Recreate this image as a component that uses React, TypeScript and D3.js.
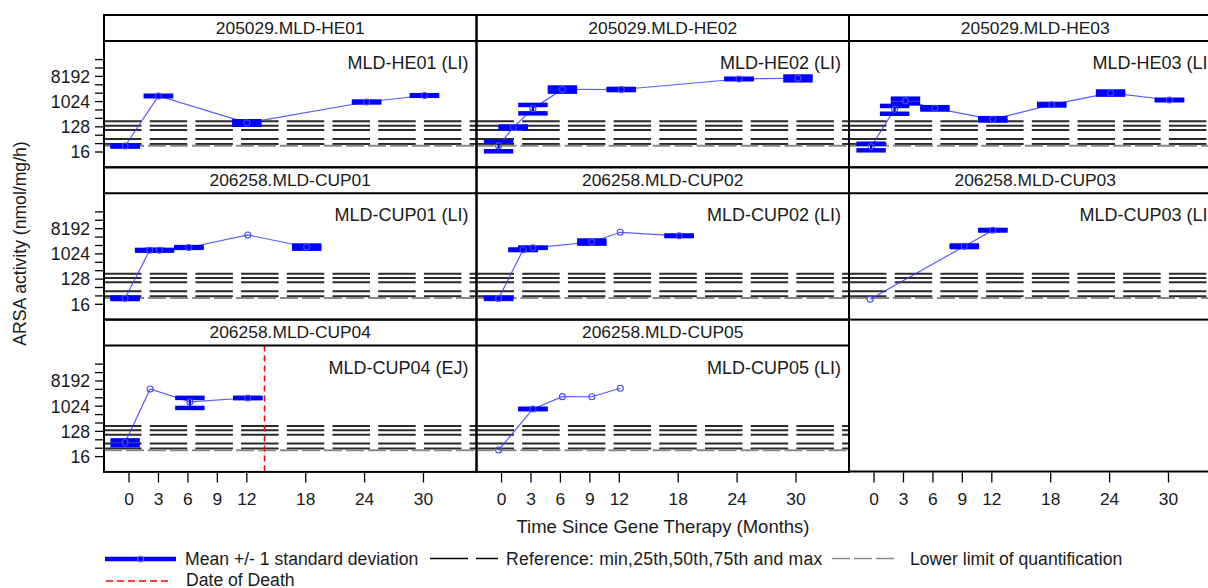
import React from "react";
import * as d3 from "d3";

// ---------- data ----------
const panelStrips = [
  "205029.MLD-HE01", "205029.MLD-HE02", "205029.MLD-HE03",
  "206258.MLD-CUP01", "206258.MLD-CUP02", "206258.MLD-CUP03",
  "206258.MLD-CUP04", "206258.MLD-CUP05",
];
const panelLabels = [
  "MLD-HE01 (LI)", "MLD-HE02 (LI)", "MLD-HE03 (LI)",
  "MLD-CUP01 (LI)", "MLD-CUP02 (LI)", "MLD-CUP03 (LI)",
  "MLD-CUP04 (EJ)", "MLD-CUP05 (LI)",
];

const he01Months = [-0.4, 3, 12, 24.2, 30.1];
const he01Mean = [26.3, 1625, 177, 990, 1694];
const he01Sd = [1.3, 30, 25, 37, 30];

const he02Months = [-0.3, 1.2, 3.2, 6.2, 12.2, 24.2, 30.2];
const he02Mean = [27, 121, 582, 2800, 2780, 6610, 7005];
const he02Sd = [10, 9.8, 194, 470, 128, 137, 1085];

const he03Months = [-0.3, 2.1, 3.2, 6.2, 12.1, 18.1, 24.1, 30.1];
const he03Mean = [25, 545, 1090, 589, 238, 793, 2083, 1168];
const he03Sd = [6.6, 170, 210, 56, 22.6, 51, 264, 24];

const cup01Months = [-0.4, 2.1, 3.1, 6.1, 12.1, 18.1];
const cup01Mean = [26.2, 1379, 1385, 1737, 4870, 1807];
const cup01Sd = [1.5, 40, 40, 50, 0, 230];

const cup02Months = [-0.3, 2.2, 3.2, 9.2, 12.1, 18.1];
const cup02Mean = [26, 1436, 1694, 2734, 6085, 4560];
const cup02Sd = [1, 30, 10, 347, 0, 95];

const cup03Months = [-0.4, 9.2, 12.1];
const cup03Mean = [24.2, 1918, 7234];
const cup03Sd = [0, 123, 150];

const cup04Months = [-0.4, 2.15, 6.2, 12.1];
const cup04Mean = [51, 4235, 1460, 2014];
const cup04Sd = [10, 0, 575, 15];

const cup05Months = [-0.3, 3.2, 6.2, 9.2, 12.1];
const cup05Mean = [27.6, 813, 2250, 2235, 4480];
const cup05Sd = [0, 10, 0, 0, 0];

const panelMonths = [he01Months, he02Months, he03Months, cup01Months, cup02Months, cup03Months, cup04Months, cup05Months];
const panelMeans = [he01Mean, he02Mean, he03Mean, cup01Mean, cup02Mean, cup03Mean, cup04Mean, cup05Mean];
const panelSds = [he01Sd, he02Sd, he03Sd, cup01Sd, cup02Sd, cup03Sd, cup04Sd, cup05Sd];

// death date (panel index 6)
const deathPanel = 6;
const deathMonth = 13.8;

// reference values: min, 25th, 50th, 75th, max
const referenceValues = [31, 47, 98, 140, 201];
const lloqValue = 27;

const xTickValues = [0, 3, 6, 9, 12, 18, 24, 30];
const yTickExponents = [4, 5, 6, 7, 8, 9, 10, 11, 12, 13, 14, 15];
const yTickLabels = [16, 128, 1024, 8192];

// ---------- layout ----------
const W = 1208;
const H = 588;
const colLeft = [104, 476.5, 849];
const colW = 372.5;
const rowTop0 = 15;
const rowStep = 152.3;
const stripH = 26;
const plotH = 126.3;
const FONT = "'Liberation Sans', Arial, sans-serif";
const TXT = "#1a1a1a";
const BLUE = "#0000ff";

function geom(i: number) {
  const row = Math.floor(i / 3);
  const col = i % 3;
  const left = colLeft[col];
  const top = rowTop0 + row * rowStep;
  const plotTop = top + stripH;
  const plotBottom = plotTop + plotH;
  const x = d3.scaleLinear().domain([-2.55, 35.4]).range([left, left + colW]);
  const y = d3.scaleLog().base(2).domain([2 ** 2.18, 2 ** 17.21]).range([plotBottom, plotTop]);
  return { row, col, left, top, plotTop, plotBottom, x, y };
}

function Panel({ i }: { i: number }) {
  const g = geom(i);
  const { x, y, left, top, plotTop, plotBottom } = g;
  const months = panelMonths[i];
  const means = panelMeans[i];
  const sds = panelSds[i];
  const pts = months.map((m, k) => [x(m), y(means[k])] as [number, number]);
  const line = d3.line()(pts) || "";
  const capHalf = x(1.5) - x(0);
  const capT = 4.5;
  return (
    <g>
      <defs>
        <clipPath id={`clip${i}`}>
          <rect x={left} y={plotTop} width={colW} height={plotH} />
        </clipPath>
      </defs>
      <g clipPath={`url(#clip${i})`}>
        {referenceValues.map((v, k) => (
          <line key={`r${k}`} x1={left} x2={left + colW} y1={y(v)} y2={y(v)}
            stroke="#2a2a2a" strokeWidth={2} strokeDasharray="37.5 8.2" />
        ))}
        <line x1={left} x2={left + colW} y1={y(lloqValue)} y2={y(lloqValue)}
          stroke="#8a8a8a" strokeWidth={2} strokeDasharray="18 4" />
        {i === deathPanel && (
          <line x1={x(deathMonth)} x2={x(deathMonth)} y1={plotTop} y2={plotBottom}
            stroke="#ff0000" strokeWidth={1.5} strokeDasharray="6 4" />
        )}
        <path d={line} fill="none" stroke="#3c3cff" strokeOpacity={0.85} strokeWidth={1.2} />
        {months.map((m, k) => {
          const s = sds[k];
          if (!(s > 0)) return null;
          const cx = x(m);
          const yu = y(means[k] + s);
          const yl = y(Math.max(means[k] - s, 1));
          return (
            <g key={`b${k}`} fill={BLUE}>
              <rect x={cx - capHalf} y={yu - capT / 2} width={capHalf * 2} height={capT} />
              <rect x={cx - capHalf} y={yl - capT / 2} width={capHalf * 2} height={capT} />
              <line x1={cx} x2={cx} y1={yu} y2={yl} stroke={BLUE} strokeWidth={2.2} />
            </g>
          );
        })}
        {pts.map((p, k) => (
          <circle key={`c${k}`} cx={p[0]} cy={p[1]} r={3} fill="none" stroke="#4646ff" strokeWidth={1.1} />
        ))}
      </g>
      <text x={left + colW - 8} y={plotTop + 28} textAnchor="end" fontSize={18} fill={TXT}>
        {panelLabels[i]}
      </text>
      <text x={left + colW / 2} y={top + 18.5} textAnchor="middle" fontSize={17.4} fill={TXT}>
        {panelStrips[i]}
      </text>
      <rect x={left} y={top} width={colW} height={stripH + plotH} fill="none" stroke="#000" strokeWidth={2} />
      <line x1={left} x2={left + colW} y1={plotTop} y2={plotTop} stroke="#000" strokeWidth={2} />
    </g>
  );
}

function YAxis({ row }: { row: number }) {
  const g = geom(row * 3);
  return (
    <g>
      {yTickExponents.map((e) => {
        const yy = g.y(2 ** e);
        return <line key={e} x1={95} x2={104} y1={yy} y2={yy} stroke="#000" strokeWidth={1.3} />;
      })}
      {yTickLabels.map((v) => (
        <text key={v} x={90} y={g.y(v)} dy="0.36em" textAnchor="end" fontSize={17.6} fill={TXT}>{v}</text>
      ))}
    </g>
  );
}

function XAxis({ col }: { col: number }) {
  const g = geom(6 + col);
  const y0 = 472.5;
  return (
    <g>
      {xTickValues.map((t) => (
        <g key={t}>
          <line x1={g.x(t)} x2={g.x(t)} y1={y0} y2={y0 + 10} stroke="#000" strokeWidth={1.3} />
          <text x={g.x(t)} y={505} textAnchor="middle" fontSize={17.4} fill={TXT}>{t}</text>
        </g>
      ))}
    </g>
  );
}

export default function App() {
  const idx = d3.range(panelStrips.length);
  return (
    <svg width={W} height={H} style={{ position: "absolute", left: 0, top: 0, background: "#fff" }}
      fontFamily={FONT}>
      <rect x={0} y={0} width={W} height={H} fill="#fff" />
      {idx.map((i) => <Panel key={i} i={i} />)}
      {/* empty cell frame */}
      <line x1={colLeft[2]} x2={colLeft[2] + colW} y1={471.5} y2={471.5} stroke="#000" strokeWidth={2} />
      {[0, 1, 2].map((r) => <YAxis key={r} row={r} />)}
      {[0, 1, 2].map((c) => <XAxis key={c} col={c} />)}
      <text x={663} y={533} textAnchor="middle" fontSize={18.5} fill={TXT}>Time Since Gene Therapy (Months)</text>
      <text transform="translate(26,243.5) rotate(-90)" textAnchor="middle" fontSize={17.6} fill={TXT}>
        ARSA activity (nmol/mg/h)
      </text>
      {/* legend */}
      <line x1={105} x2={176} y1={559} y2={559} stroke={BLUE} strokeWidth={4.5} />
      <circle cx={140.5} cy={559} r={3} fill="none" stroke="#6a6aff" strokeWidth={1.1} />
      <text x={185} y={565} fontSize={17.6} fill={TXT}>Mean +/- 1 standard deviation</text>
      <line x1={430} x2={498} y1={558.5} y2={558.5} stroke="#000" strokeWidth={1.6} strokeDasharray="38 8" />
      <text x={506} y={565} fontSize={17.6} fill={TXT} letterSpacing={0.2}>Reference: min,25th,50th,75th and max</text>
      <line x1={832} x2={895} y1={558.5} y2={558.5} stroke="#8a8a8a" strokeWidth={1.6} strokeDasharray="18 4" />
      <text x={910} y={565} fontSize={17.6} fill={TXT}>Lower limit of quantification</text>
      <line x1={106} x2={172} y1={581} y2={581} stroke="#ff0000" strokeWidth={1.5} strokeDasharray="7 4" />
      <text x={186} y={586} fontSize={17.6} fill={TXT}>Date of Death</text>
    </svg>
  );
}
